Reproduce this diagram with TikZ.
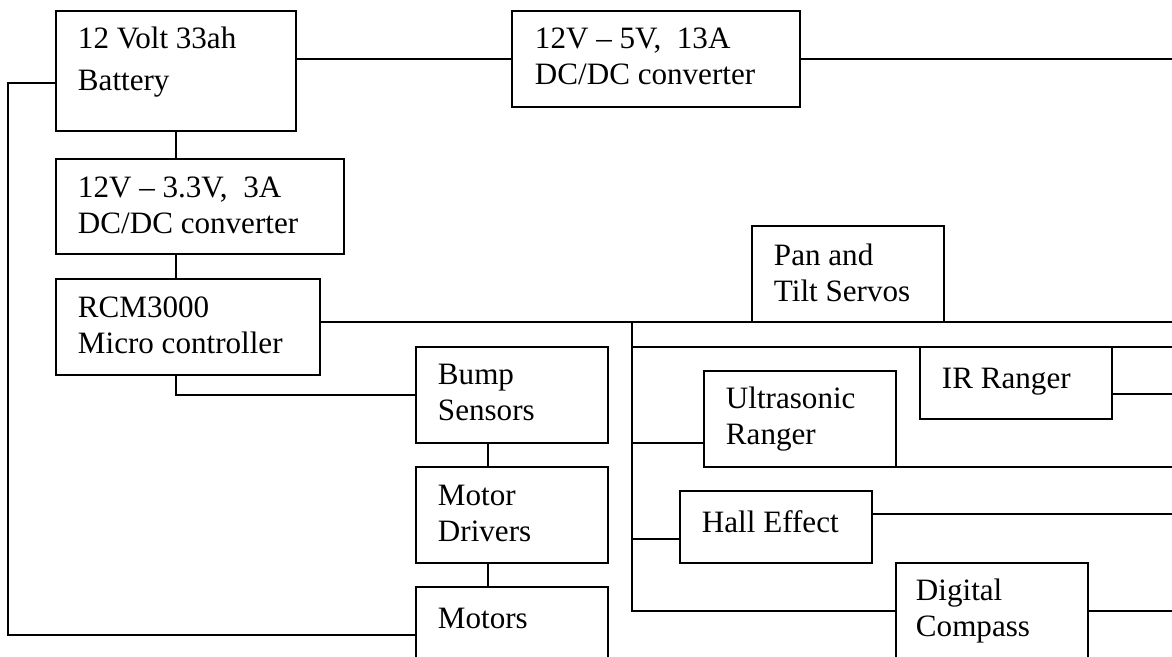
\documentclass[tikz,border=0pt]{standalone}
\usepackage{fontspec}
\setmainfont{Liberation Serif}
\usetikzlibrary{calc}

\begin{document}
\begin{tikzpicture}[x=0.02cm,y=-0.02cm,line width=1.1pt,
  box/.style={draw,anchor=north west,inner sep=0pt,outer sep=0pt,minimum width=3.84cm,minimum height=1.92cm},
  txt/.style={anchor=base west,inner sep=0pt,font=\fontsize{17.7}{21}\selectfont}]
\useasboundingbox (0,0) rectangle (1172,656);
\clip (0,0) rectangle (1172,656);
% boxes
\node[box,minimum width=4.8cm,minimum height=2.4cm](bat) at (56,11){};
\node[box,minimum width=5.76cm](dc5) at (512,11){};
\node[box,minimum width=5.76cm,minimum height=1.9cm](dc33) at (56,159){};
\node[box,minimum width=5.28cm](rcm) at (56,279){};
\node[box](pan) at (752,226){};
\node[box,minimum height=1.44cm](ir) at (920,347){};
\node[box](us) at (704,371){};
\node[box](bump) at (416,347){};
\node[box](drv) at (416,467){};
\node[box](mot) at (416,587){};
\node[box,minimum height=1.44cm](hall) at (680,491){};
\node[box](cmp) at (896,563){};
% texts
\node[txt](batT) at ($(bat.north west)+(21,37)$){\parbox[t]{5cm}{12 Volt 33ah\\[3pt]Battery}};
\node[txt](dc5T) at ($(dc5.north west)+(22,37)$){\parbox[t]{5cm}{12V – 5V,~ 13A\\DC/DC converter}};
\node[txt](dc33T) at ($(dc33.north west)+(21,38)$){\parbox[t]{5cm}{12V – 3.3V,~ 3A\\DC/DC converter}};
\node[txt](rcmT) at ($(rcm.north west)+(21,38)$){\parbox[t]{5cm}{RCM3000\\Micro controller}};
\node[txt](panT) at ($(pan.north west)+(21,39)$){\parbox[t]{5cm}{Pan and\\Tilt Servos}};
\node[txt](irT) at ($(ir.north west)+(21,41)$){IR Ranger};
\node[txt](usT) at ($(us.north west)+(21,37)$){\parbox[t]{5cm}{Ultrasonic\\Ranger}};
\node[txt](bumpT) at ($(bump.north west)+(21,37)$){\parbox[t]{5cm}{Bump\\Sensors}};
\node[txt](drvT) at ($(drv.north west)+(21,38)$){\parbox[t]{5cm}{Motor\\Drivers}};
\node[txt](motT) at ($(mot.north west)+(21,41)$){Motors};
\node[txt](hallT) at ($(hall.north west)+(21,41)$){Hall Effect};
\node[txt](cmpT) at ($(cmp.north west)+(19,37)$){\parbox[t]{5cm}{Digital\\Compass}};
% wires
\coordinate (eR) at (1172,0);
\coordinate (cL) at (8,83);
\coordinate (bus) at (632,322);
\coordinate (mx) at (488,0);
\coordinate (irR) at ($(ir.north east)+(0,47)$);
\coordinate (hL) at ($(hall.north west)+(0,48)$);
\coordinate (hR) at ($(hall.north east)+(0,23)$);
\draw ($(bat.north west)+(0,72)$) -- (cL) |- (mot.west);
\draw (bat.south) -- (bat.south |- dc33.north);
\draw (bat.east |- dc5.west) -- (dc5.west);
\draw (dc5.east) -- (dc5.east -| eR);
\draw (dc33.south -| bat.south) -- (rcm.north -| bat.south);
\draw (rcm.east |- pan.south) -- (pan.south -| eR);
\draw (bus) |- (cmp.west);
\draw (bus |- ir.north) -- (ir.north -| eR);
\draw (irR) -- (irR -| eR);
\draw (bus |- bump.south) -- (us.west |- bump.south);
\draw (us.south east) -- (us.south east -| eR);
\draw (bus |- hL) -- (hL);
\draw (hR) -- (hR -| eR);
\draw (cmp.east) -- (cmp.east -| eR);
\draw (rcm.south -| bat.south) |- (bump.west);
\draw (bump.south -| mx) -- (drv.north -| mx);
\draw (drv.south -| mx) -- (mot.north -| mx);
\end{tikzpicture}
\end{document}
